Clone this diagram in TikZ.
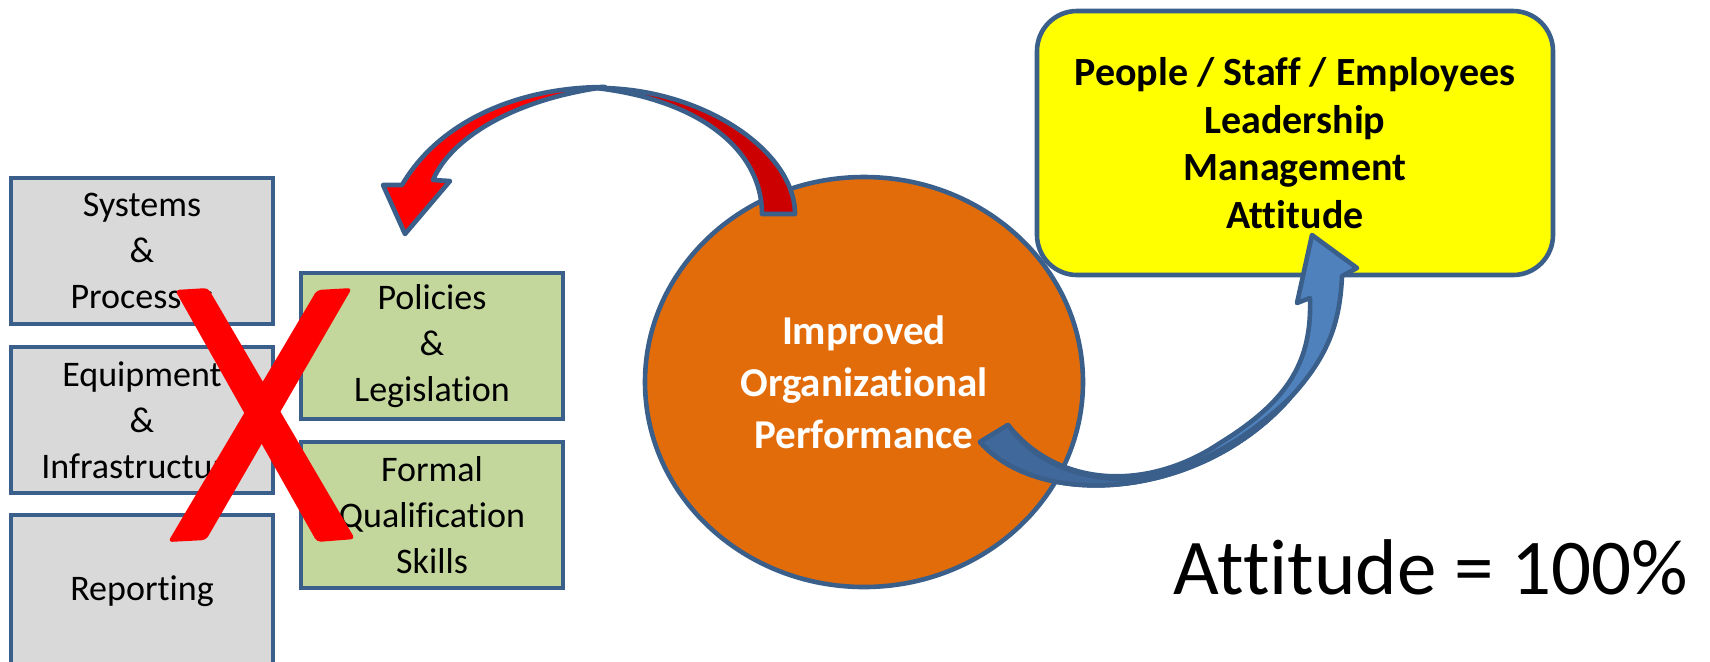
\documentclass[tikz,border=0pt]{standalone}
\usepackage{fontspec}
\setmainfont{Carlito}[Ligatures=NoCommon]
\usetikzlibrary{shapes.geometric}

\definecolor{edgeblue}{HTML}{3A5F8B}
\definecolor{boxgray}{HTML}{D9D9D9}
\definecolor{boxgreen}{HTML}{C3D69B}
\definecolor{perforange}{HTML}{E36C0A}
\definecolor{noteyellow}{HTML}{FFFF00}
\definecolor{arrowred}{HTML}{FF0000}
\definecolor{arrowdarkred}{HTML}{CC0000}
\definecolor{arrowblue}{HTML}{4F81BD}
\definecolor{arrowdarkblue}{HTML}{41689A}

\begin{document}
\begin{tikzpicture}[x=0.5pt, y=-0.5pt,
    itembox/.style={rectangle, draw=edgeblue, line width=2.3pt, inner sep=0pt, align=center,
      minimum width=131pt, minimum height=73pt, font=\fontsize{18}{23}\selectfont},
    oldbox/.style={itembox, fill=boxgray},
    newbox/.style={itembox, fill=boxgreen},
    blockarrow/.style={draw=edgeblue, line width=2.3pt, line join=round}]
    \useasboundingbox (0,0) rectangle (1710,661);

    % first column (crossed out)
    \node[oldbox] (systems) at (142,251) {Systems\\\&\\Processes};
    \node[oldbox] (equipment) at (142,420) {Equipment\\\&\\Infrastructure};
    \node[oldbox, minimum height=76pt] (reporting) at (142,591) {Reporting};

    % second column
    \node[newbox] (policies) at (432,346) {Policies\\\&\\Legislation};
    \node[newbox] (formal) at (432,515) {Formal\\Qualification\\Skills};

    % big red cross
    \fill[arrowred, rounded corners=2pt] (175,290) -- (208,288) -- (355,539) -- (317,542) -- cycle;
    \fill[arrowred, rounded corners=2pt] (317,290) -- (352,288) -- (206,540) -- (168,542) -- cycle;

    \node[ellipse, draw=edgeblue, line width=2.3pt, fill=perforange, minimum width=219pt, minimum height=205pt,
      inner sep=0pt, align=center, text=white, font=\fontsize{20.5}{26}\selectfont\bfseries]
      (perf) at (864,382) {Improved\\Organizational\\Performance};

    \node[rectangle, rounded corners=20pt, draw=edgeblue, line width=2.3pt, fill=noteyellow,
      minimum width=258pt, minimum height=132pt, align=center, font=\fontsize{20}{23.75}\selectfont\bfseries]
      (people) at (1295,143) {People / Staff / Employees\\Leadership\\Management\\Attitude};

    % red arrow: back half then front half with the head
    \filldraw[blockarrow, fill=arrowdarkred] (596,88) .. controls (700,87) and (795,150) .. (795,214)
      -- (762,214) .. controls (762,150) and (700,100) .. (596,88) -- cycle;
    \filldraw[blockarrow, fill=arrowred] (433,180) .. controls (450,140) and (510,100) .. (605,87)
      .. controls (520,87) and (440,120) .. (402,185) -- (383,185) -- (405,234) -- (450,181) -- cycle;

    % blue arrow: whole band, then the darker tail part
    \filldraw[blockarrow, fill=arrowblue] (1008,425) -- (980,442) .. controls (1040,510) and (1200,500) .. (1290,398)
      .. controls (1330,355) and (1340,320) .. (1342,276) -- (1357,268) -- (1312,235) -- (1297,303) -- (1310,298)
      .. controls (1312,360) and (1290,400) .. (1220,443) .. controls (1150,490) and (1060,490) .. (1008,425) -- cycle;
    \filldraw[blockarrow, fill=arrowdarkblue] (1008,425) -- (980,442) .. controls (1040,510) and (1200,500) .. (1290,398)
      .. controls (1230,455) and (1160,485) .. (1105,478) .. controls (1060,472) and (1030,455) .. (1008,425) -- cycle;

    \node[anchor=base, inner sep=0pt, font=\fontsize{39.5}{47}\selectfont] (score) at (1431,594) {Attitude = 100\%};
\end{tikzpicture}
\end{document}
